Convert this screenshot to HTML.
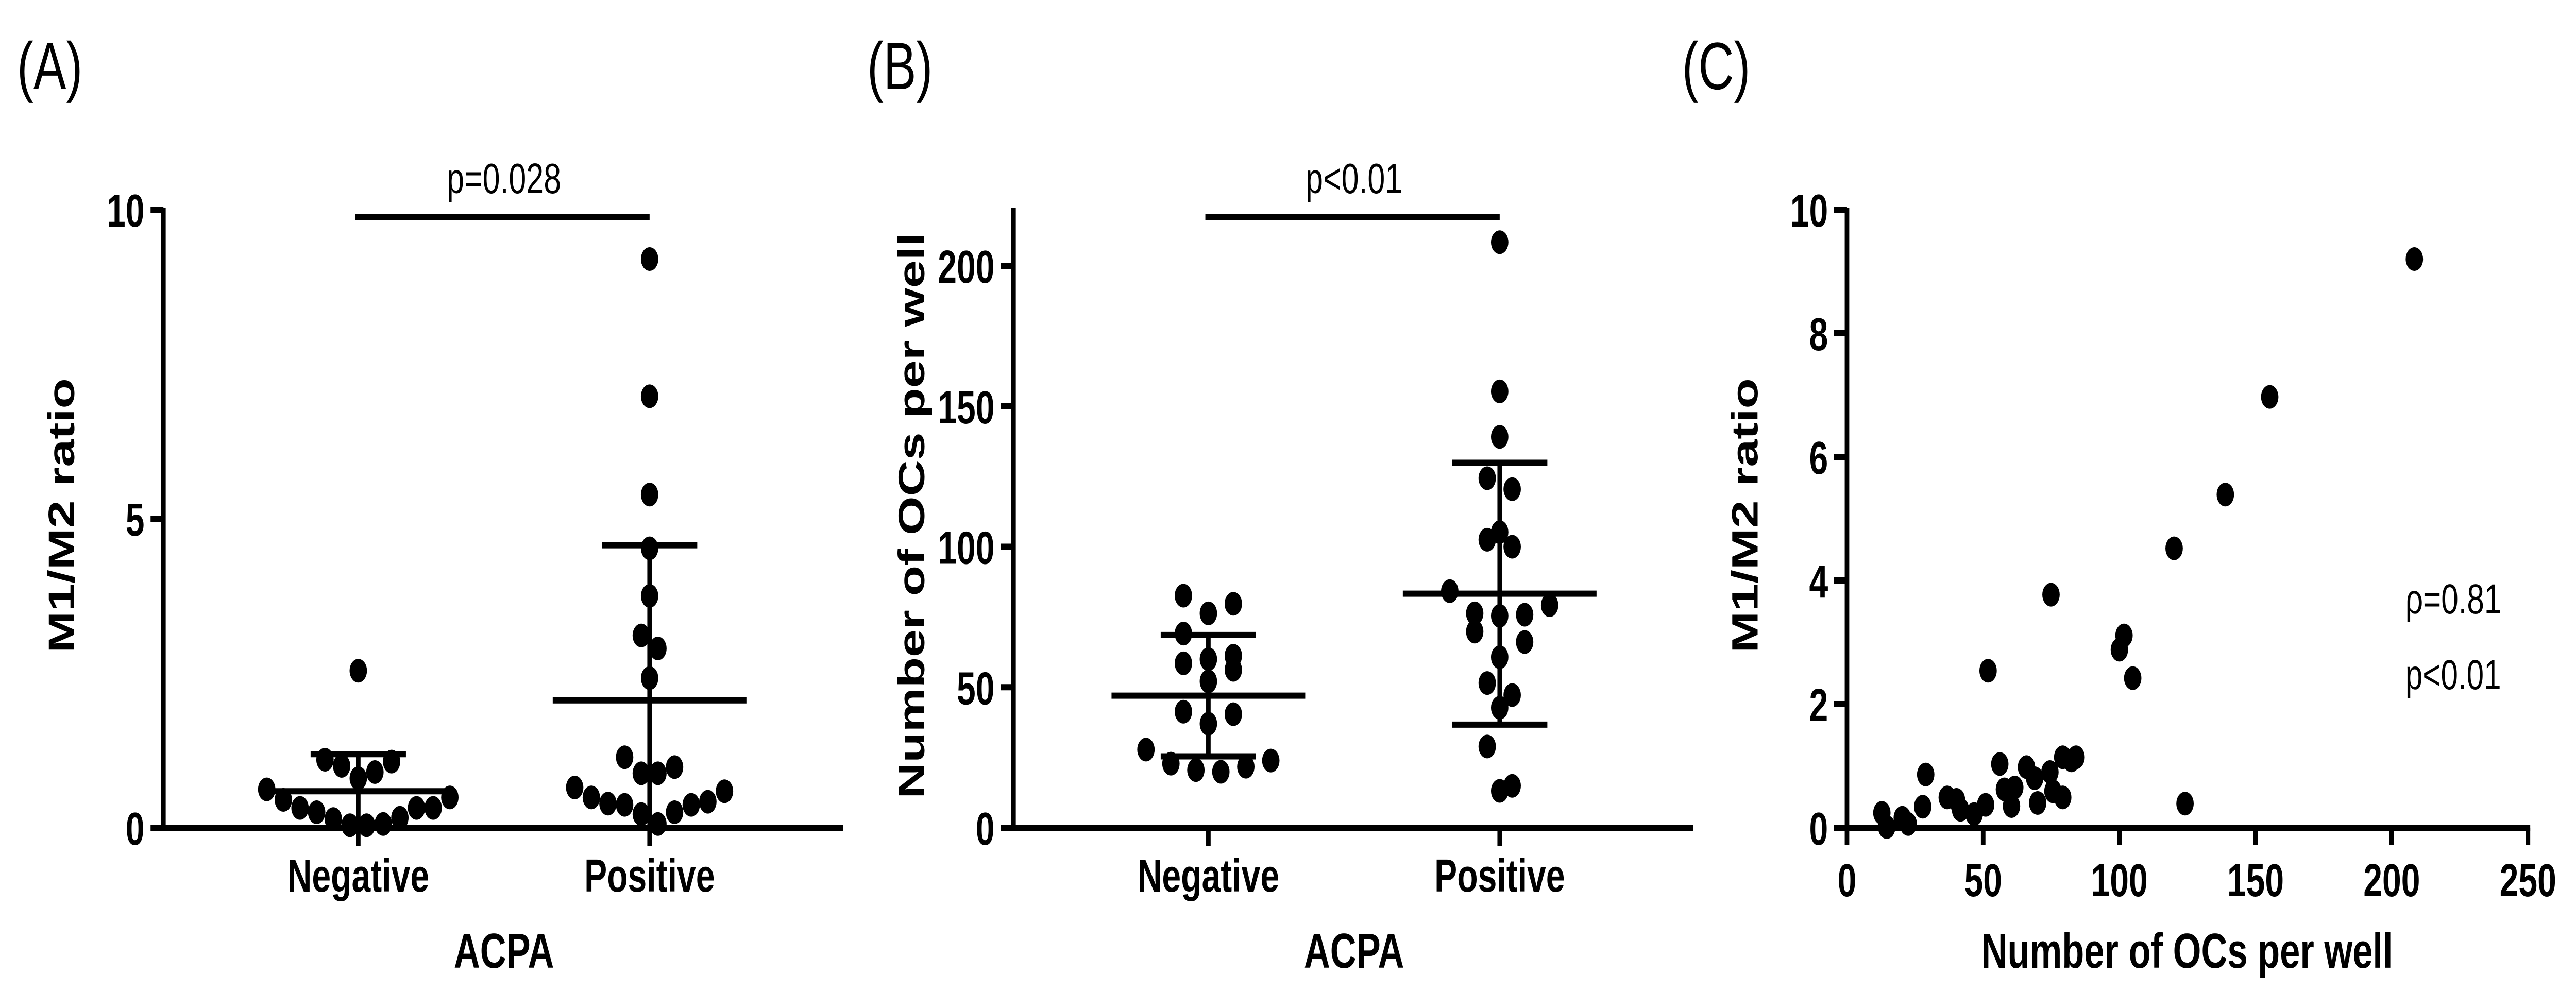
<!DOCTYPE html>
<html><head><meta charset="utf-8"><style>
html,body{margin:0;padding:0;background:#fff;width:100%;height:100%;overflow:hidden;}
svg{display:block;width:100vw;height:100vh;}
text{font-family:"Liberation Sans",Arial,sans-serif;fill:#000;}
</style></head><body>
<svg id="fig" xmlns="http://www.w3.org/2000/svg" viewBox="0 0 6809 1926" preserveAspectRatio="none"></svg>
<script>
// ---- Panel A data: M1/M2 ratio by ACPA status ----
const catsA = ["Negative","Positive"];
const negA = [2.54,1.07,0.9,0.8,1.0,1.1,0.49,0.32,0.32,0.16,0.06,0.04,0.04,0.14,0.25,0.32,0.45,0.62];
const posA = [9.2,6.98,5.39,4.52,3.75,3.11,2.9,2.42,1.14,0.88,0.88,0.98,0.59,0.65,0.42,0.37,0.25,0.06,0.22,0.37,0.39,0.49];
const meanA = [0.59,2.06];
const sdA = [0.6,2.51];
const ticksA = [0,5,10];
// ---- Panel B data: Number of OCs per well ----
const catsB = ["Negative","Positive"];
const negB = [82.6,76.3,79.7,69.1,61.2,58.5,60.0,56.2,52.1,40.4,41.3,37.0,23.9,21.7,19.9,20.5,22.8,27.8];
const posB = [208.4,155.3,139.1,124.4,120.5,102.5,105.2,100.0,84.2,76.3,75.4,75.8,79.2,69.8,66.1,60.7,51.5,47.2,42.7,28.9,13.1,14.9];
const meanB = [47.0,83.3];
const sdB = [21.6,46.6];
const ticksB = [0,50,100,150,200];
// ---- Panel C data: correlation ----
const ocC = [208.3,155.2,138.9,120.1,74.9,101.7,100.0,104.9,51.8,124.1,12.8,14.6,20.3,22.5,27.8,28.9,36.8,40.2,41.7,46.7,50.9,56.1,57.8,60.4,61.6,65.9,68.9,70.0,74.5,75.6,79.2,79.2,82.4,84.1];
const ratioC = [9.2,6.97,5.39,4.52,3.77,3.11,2.88,2.42,2.54,0.39,0.24,0.01,0.16,0.06,0.34,0.86,0.49,0.45,0.29,0.22,0.37,1.03,0.62,0.35,0.65,0.98,0.80,0.40,0.90,0.59,0.49,1.14,1.09,1.14];
const ticksCx = [0,50,100,150,200,250];
const ticksCy = [0,2,4,6,8,10];

const NS = "http://www.w3.org/2000/svg";
const svg = document.getElementById("fig");
function el(tag, attrs, parent){
  const e = document.createElementNS(NS, tag);
  for (const k in attrs) e.setAttribute(k, attrs[k]);
  (parent||svg).appendChild(e);
  return e;
}
function txt(s, attrs, parent){ const t = el("text", attrs, parent); t.textContent = s; return t; }
const LW = 12, R = 23, Y0 = 1607, Y1 = 407;

function group(name){
  const g = el("g", {});
  
  
  return g;
}

function yAxis(g, x0, ymax, ticks, yFn, title){
  const ax = el("line",{x1:x0,y1:Y1-4,x2:x0,y2:Y0+LW/2,stroke:"#000","stroke-width":LW},g);
  
  
  ticks.forEach(v=>{
    const y = yFn(v);
    const t = el("line",{x1:x0-34,y1:y,x2:x0,y2:y,stroke:"#000","stroke-width":LW},g);
    
    
    const l = txt(String(v),{x:x0-50,y:y+33,"text-anchor":"end","font-size":90,"font-weight":"bold"},g);
    
    
  });
  const tt = txt(title.s,{x:0,y:0,"text-anchor":"middle","font-size":97,"font-weight":"bold",transform:`translate(${title.x},${title.y}) rotate(-90)`},g);
  
  
}

// Row-binned scatter (GraphPad-like)
function rowScatter(vals, cx, yFn, SP){
  const BIN = 80;
  const bins = {};
  vals.forEach((v,i)=>{
    const b = Math.floor((Y0 - yFn(v))/BIN);
    (bins[b] = bins[b] || []).push(i);
  });
  const res = [];
  Object.keys(bins).forEach(b=>{
    const idx = bins[b].sort((a,c)=>vals[a]-vals[c]);
    const n = idx.length;
    const slots = [];
    for (let k=0;k<n;k++) slots.push((k-(n-1)/2)*SP);
    slots.sort((a,c)=>Math.abs(a)-Math.abs(c) || c-a);
    idx.forEach((i,j)=>{ res[i] = [cx+slots[j], yFn(vals[i])]; });
  });
  return res;
}

function dotPanel(name, x0, cats, groups, means, sds, ymax, ticks, title, sigText, letter, sp){
  const g = group(name);
  const yFn = v => Y0 - (v/ymax)*(Y0-Y1);
  const xFn = i => x0 + 515 + i*770;
  const lt = txt(letter,{x:x0-387,y:173,"font-size":130},g);
  
  
  yAxis(g, x0, ymax, ticks, yFn, {s:title,x:x0-236,y:1001});
  const xa = el("line",{x1:x0-6,y1:Y0,x2:x0+1796,y2:Y0,stroke:"#000","stroke-width":LW},g);
  
  
  cats.forEach((c,i)=>{
    const cx = xFn(i);
    const tk = el("line",{x1:cx,y1:Y0,x2:cx,y2:1642,stroke:"#000","stroke-width":LW},g);
    
    
    const cl = txt(c,{x:cx,y:1731,"text-anchor":"middle","font-size":90,"font-weight":"bold"},g);
    
    
    const pts = rowScatter(groups[i], cx, yFn, sp);
    pts.forEach(p=>{
      const d = el("circle",{cx:p[0],cy:p[1],r:R,fill:"#000"},g);
      
      
    });
    const m = means[i], s = sds[i];
    const yTop = yFn(m+s), yBot = yFn(Math.max(m-s,0));
    const v = el("line",{x1:cx,y1:yTop,x2:cx,y2:yBot,stroke:"#000","stroke-width":LW},g);
    
    
    const ml = el("line",{x1:cx-256,y1:yFn(m),x2:cx+256,y2:yFn(m),stroke:"#000","stroke-width":LW},g);
    
    
    const c1 = el("line",{x1:cx-126,y1:yTop,x2:cx+126,y2:yTop,stroke:"#000","stroke-width":LW},g);
    
    
    if (m-s>0){
      const c2 = el("line",{x1:cx-126,y1:yBot,x2:cx+126,y2:yBot,stroke:"#000","stroke-width":LW},g);
      
      
    }
  });
  const sb = el("line",{x1:xFn(0)-8,y1:421,x2:xFn(1),y2:421,stroke:"#000","stroke-width":LW},g);
  
  
  const st = txt(sigText,{x:(xFn(0)+xFn(1))/2,y:375,"text-anchor":"middle","font-size":83},g);
  
  
  const at = txt("ACPA",{x:(xFn(0)+xFn(1))/2,y:1879,"text-anchor":"middle","font-size":96,"font-weight":"bold"},g);
  
  
}

dotPanel("panel-a-m1m2-ratio", 432, catsA, [negA,posA], meanA, sdA, 10, ticksA, "M1/M2 ratio", "p=0.028", "(A)", 44);
dotPanel("panel-b-oc-count", 2679, catsB, [negB,posB], meanB, sdB, 220, ticksB, "Number of OCs per well", "p<0.01", "(B)", 66);

// Panel C scatter
(function(){
  const g = group("panel-c-correlation");
  const x0 = 4882, xLen = 1800;
  const xFn = v => x0 + v/250*xLen;
  const yFn = v => Y0 - v/10*(Y0-Y1);
  const lt = txt("(C)",{x:4446,y:173,"font-size":130},g);
  
  
  yAxis(g, x0, 10, ticksCy, yFn, {s:"M1/M2 ratio",x:x0-236,y:1001});
  const xa = el("line",{x1:x0-34,y1:Y0,x2:x0+xLen+6,y2:Y0,stroke:"#000","stroke-width":LW},g);
  
  
  ticksCx.forEach(v=>{
    const x = xFn(v);
    const t = el("line",{x1:x,y1:Y0,x2:x,y2:1641,stroke:"#000","stroke-width":LW},g);
    
    
    const l = txt(String(v),{x:x,y:1740,"text-anchor":"middle","font-size":90,"font-weight":"bold"},g);
    
    
  });
  ocC.forEach((v,i)=>{
    const d = el("circle",{cx:xFn(v),cy:yFn(ratioC[i]),r:R,fill:"#000"},g);
    
    
  });
  const rt = txt("ρ=0.81",{x:6358,y:1191,"font-size":82},g);
  
  
  const pt = txt("p<0.01",{x:6358,y:1338,"font-size":82},g);
  
  
  const at = txt("Number of OCs per well",{x:5781,y:1879,"text-anchor":"middle","font-size":96,"font-weight":"bold"},g);
  
  
})();
</script>
</body></html>
